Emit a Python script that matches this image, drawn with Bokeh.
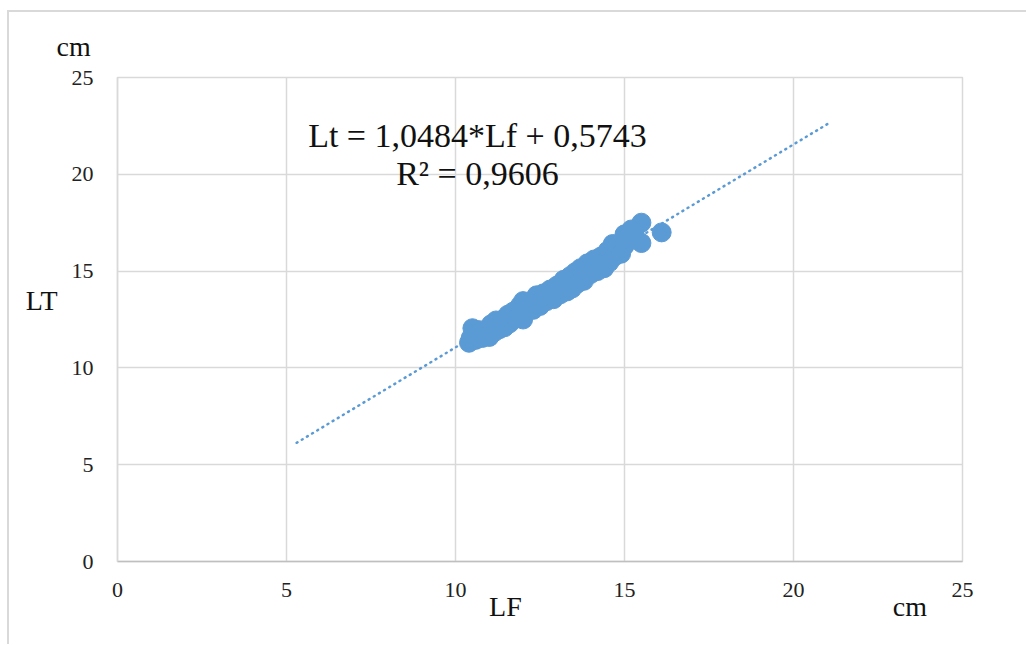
from bokeh.plotting import figure
from bokeh.models import Range1d, FixedTicker, Label, ColumnDataSource
from bokeh.embed import file_html
from bokeh.resources import INLINE

# Data (LF vs LT, cm)
lf = [10.4, 10.45, 10.5, 10.6, 10.7, 10.8, 10.9, 11.0, 11.05, 11.15, 11.2, 11.3,
      11.4, 11.45, 11.55, 11.6, 11.7, 11.8, 11.9, 12.0, 12.0, 12.1, 12.2, 12.3,
      12.4, 12.5, 12.6, 12.7, 12.8, 12.9, 13.0, 13.1, 13.2, 13.3, 13.4, 13.45,
      13.55, 13.6, 13.7, 13.8, 13.9, 14.0, 14.1, 14.2, 14.3, 14.4, 14.5, 14.55,
      14.65, 14.7, 14.8, 14.9, 15.0, 15.0, 15.1, 15.2, 15.3, 15.5, 15.5, 16.1]
lt = [11.3, 11.55, 12.05, 11.45, 11.95, 11.55, 11.9, 11.6, 12.25, 11.85, 12.45, 12.0,
      12.5, 12.1, 12.75, 12.3, 12.9, 12.55, 13.2, 12.5, 13.45, 12.95, 13.4, 13.0,
      13.75, 13.2, 13.85, 13.45, 14.05, 13.55, 14.25, 13.8, 14.55, 13.95, 14.75, 14.1,
      14.95, 14.35, 15.15, 14.5, 15.4, 14.85, 15.6, 15.0, 15.75, 15.15, 16.05, 15.45,
      16.4, 15.75, 16.35, 15.9, 16.9, 16.3, 16.6, 17.15, 16.9, 17.5, 16.45, 17.0]

slope = 1.0484
intercept = 0.5743
trend_x = [5.3, 21.0]
trend_y = [slope * v + intercept for v in trend_x]

ticks = [0, 5, 10, 15, 20, 25]
eq_text = "Lt = 1,0484*Lf + 0,5743"
r2_text = "R² = 0,9606"
x_label = "LF"
y_label = "LT"
unit = "cm"

BLUE = "#5b9bd5"
FONT = "Liberation Serif"
NB = "\u00a0"

p = figure(width=1019, height=634, output_backend="svg", toolbar_location=None,
           x_range=Range1d(0, 25), y_range=Range1d(0, 25))
p.min_border_left = 108
p.min_border_right = 66
p.min_border_top = 65
p.min_border_bottom = 85
p.background_fill_color = "white"
p.border_fill_color = "white"
p.outline_line_color = "#d9d9d9"
p.outline_line_width = 1.5
p.styles = {"border-left": "2px solid #d9d9d9", "border-top": "2px solid #d9d9d9",
            "margin-left": "7px", "margin-top": "10px"}

# unit label at top left, as the title
p.title.text = unit
p.title.align = "left"
p.title.offset = -61
p.title.standoff = 32
p.title.text_font = FONT
p.title.text_font_size = "28px"
p.title.text_font_style = "normal"
p.title.text_color = "#111111"

for ax in (p.xaxis[0], p.yaxis[0]):
    ax.ticker = FixedTicker(ticks=ticks)
    ax.major_tick_line_color = None
    ax.minor_tick_line_color = None
    ax.major_tick_out = 0
    ax.major_tick_in = 0
    ax.major_label_text_font = FONT
    ax.major_label_text_font_size = "22px"
    ax.major_label_text_color = "#222222"
    ax.axis_label_text_font = FONT
    ax.axis_label_text_font_style = "normal"
    ax.axis_label_text_font_size = "28px"
    ax.axis_label_text_color = "#111111"
p.xaxis.major_label_standoff = 21
p.yaxis.major_label_standoff = 24
p.xaxis.axis_line_color = "#bfbfbf"
p.xaxis.axis_line_width = 1.5
p.yaxis.axis_line_color = "#d9d9d9"
p.yaxis.axis_line_width = 1.5

# x label "LF" and unit "cm" on one line, placed with non-breaking spaces
p.xaxis.axis_label = NB * 48 + x_label + NB * 53 + unit
p.xaxis.axis_label_standoff = -9
p.yaxis.axis_label = y_label + "\n" + NB
p.yaxis.axis_label_orientation = "horizontal"
p.yaxis.axis_label_standoff = 11

p.xgrid.ticker = FixedTicker(ticks=ticks)
p.ygrid.ticker = FixedTicker(ticks=ticks)
p.xgrid.grid_line_color = "#d9d9d9"
p.ygrid.grid_line_color = "#d9d9d9"
p.xgrid.grid_line_width = 1.5
p.ygrid.grid_line_width = 1.5

p.line(trend_x, trend_y, line_color=BLUE, line_width=2.5, line_dash="1 5",
       line_cap="round")

src = ColumnDataSource(dict(x=lf, y=lt))
p.scatter("x", "y", source=src, size=19, fill_color=BLUE, line_color=BLUE)

def lab(x, y, text, size):
    p.add_layout(Label(x=x, y=y, text=text, text_font=FONT,
                       text_font_size=size, text_color="#111111",
                       text_align="center", text_baseline="middle"))

lab(10.65, 22.0, eq_text, "34px")
lab(10.65, 20.05, r2_text, "34px")

open("out.html", "w").write(file_html(p, INLINE))
